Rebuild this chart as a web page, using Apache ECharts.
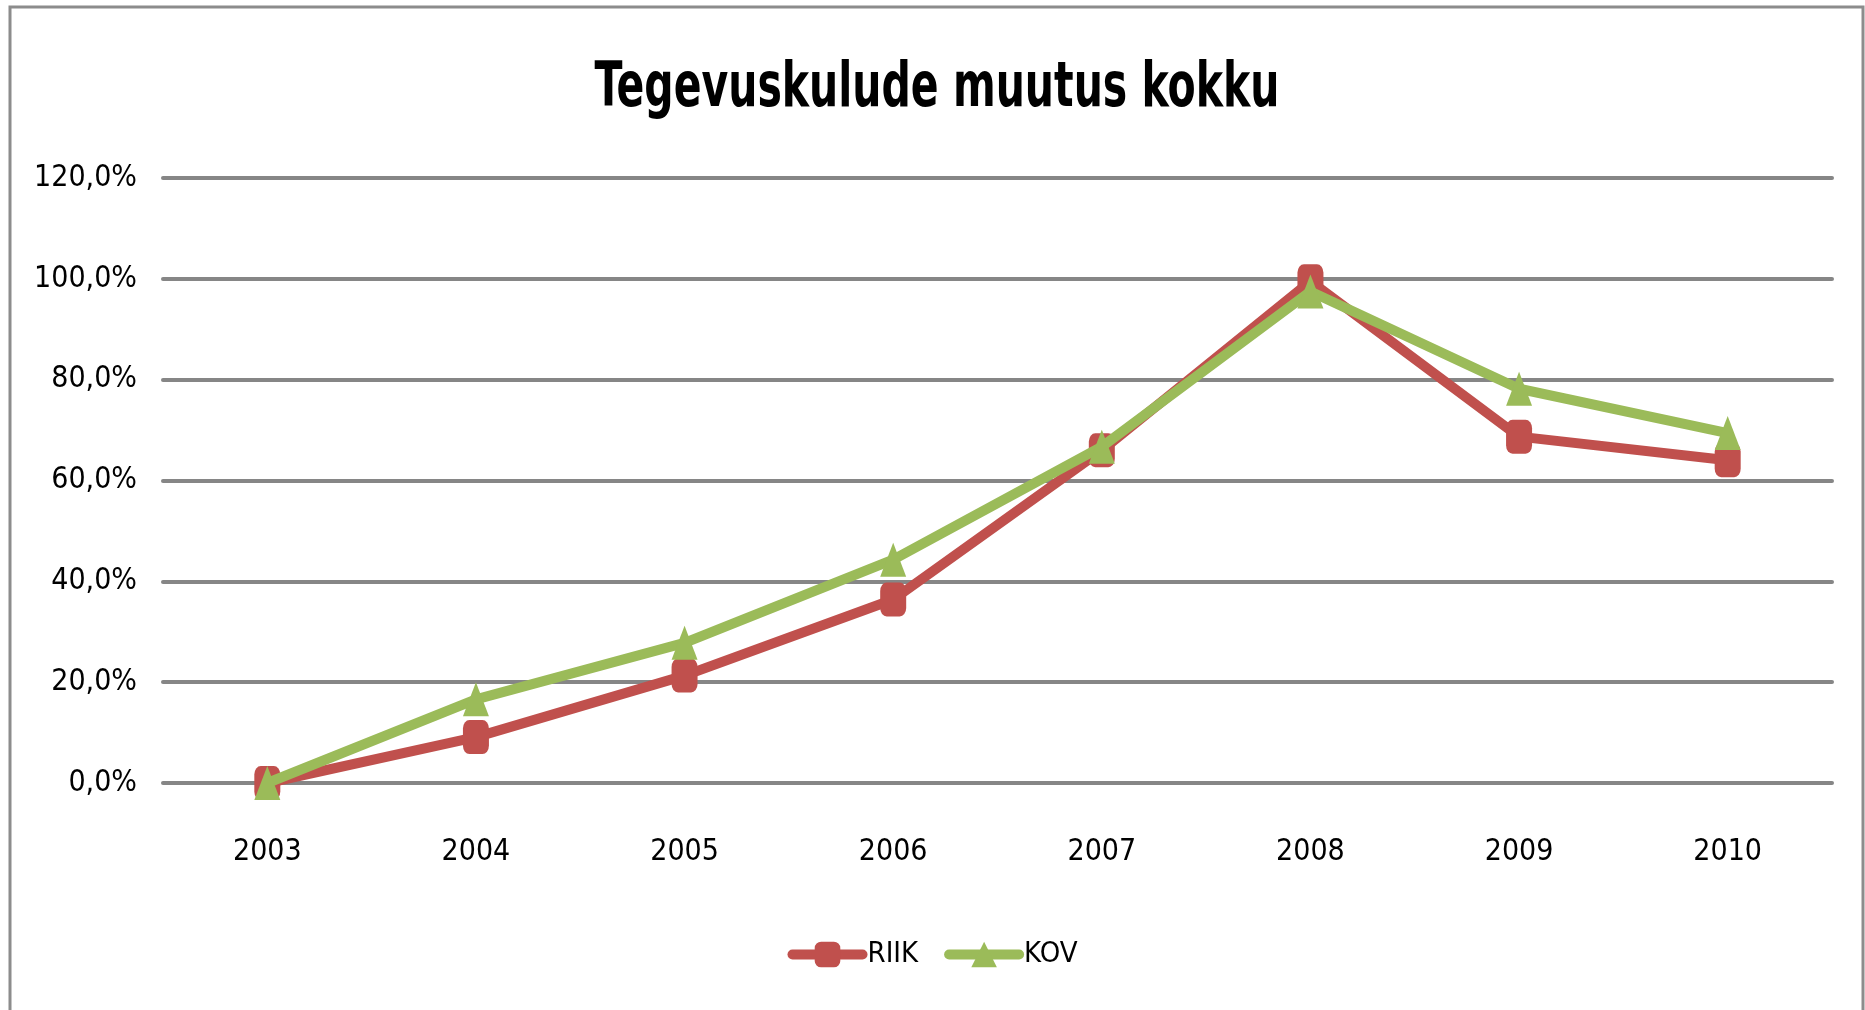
<!DOCTYPE html>
<html>
<head>
<meta charset="utf-8">
<script src="https://cdn.jsdelivr.net/npm/echarts@6/dist/echarts.min.js"></script>
<style>
    html, body {margin: 0; padding: 0; background: #fff;}
    #chart {width: 1865px; height: 1010px;}
</style>
</head>
<body>
<div id="chart"></div>
<script>
// andmed
var years = ['2003', '2004', '2005', '2006', '2007', '2008', '2009', '2010'];
var riik = [0, 9.1, 21.3, 36.4, 66.0, 99.5, 68.7, 64.0];
var kov = [0, 16.6, 27.8, 44.3, 66.7, 97.5, 78.2, 69.4];

var font = '"DejaVu Sans Condensed", "Liberation Sans", sans-serif';

(function () {
    var chart = echarts.init(document.getElementById('chart'));

    var option = {
        backgroundColor: '#fff',
        animation: false,
        graphic: [
            {
                type: 'rect',
                shape: {x: 10, y: 7, width: 1853, height: 1020},
                style: {fill: 'none', stroke: '#8c8c8c', lineWidth: 3},
                silent: true
            },
            {
                // pealkiri, kitsendatud nagu originaalis
                type: 'text',
                x: 937,
                y: 90,
                scaleX: 0.735,
                style: {
                    text: 'Tegevuskulude muutus kokku',
                    x: 0,
                    y: 0,
                    align: 'center',
                    verticalAlign: 'middle',
                    font: 'bold 62px ' + font,
                    fill: '#000'
                },
                silent: true
            }
        ],
        legend: {
            bottom: 36,
            left: 'center',
            itemWidth: 70,
            itemHeight: 32,
            itemGap: 26,
            lineStyle: {width: 10, cap: 'round'},
            textStyle: {fontFamily: font, fontSize: 29, color: '#000'},
            data: ['RIIK', 'KOV']
        },
        grid: {
            left: 163,
            right: 33,
            top: 178,
            bottom: 227
        },
        xAxis: {
            type: 'category',
            data: years,
            boundaryGap: true,
            axisLine: {show: false},
            axisTick: {show: false},
            axisLabel: {
                margin: 54,
                fontFamily: font,
                fontSize: 30,
                color: '#000'
            }
        },
        yAxis: {
            type: 'value',
            min: 0,
            max: 120,
            interval: 20,
            axisLine: {show: false},
            axisTick: {show: false},
            axisLabel: {
                margin: 26,
                fontFamily: font,
                fontSize: 30,
                color: '#000',
                formatter: function (v) {
                    return v.toFixed(1).replace('.', ',') + '%';
                }
            },
            splitLine: {
                lineStyle: {color: '#868686', width: 4, cap: 'round'}
            }
        },
        series: [
            {
                name: 'RIIK',
                type: 'line',
                data: riik,
                symbol: 'roundRect',
                symbolSize: [26, 34],
                color: '#C0504D',
                lineStyle: {width: 10, cap: 'round', join: 'round'},
                itemStyle: {color: '#C0504D'},
                z: 2
            },
            {
                name: 'KOV',
                type: 'line',
                data: kov,
                symbol: 'triangle',
                symbolSize: [26, 34],
                color: '#9BBB59',
                lineStyle: {width: 10, cap: 'round', join: 'round'},
                itemStyle: {color: '#9BBB59'},
                z: 3
            }
        ]
    };

    chart.setOption(option);
})();
</script>
</body>
</html>
